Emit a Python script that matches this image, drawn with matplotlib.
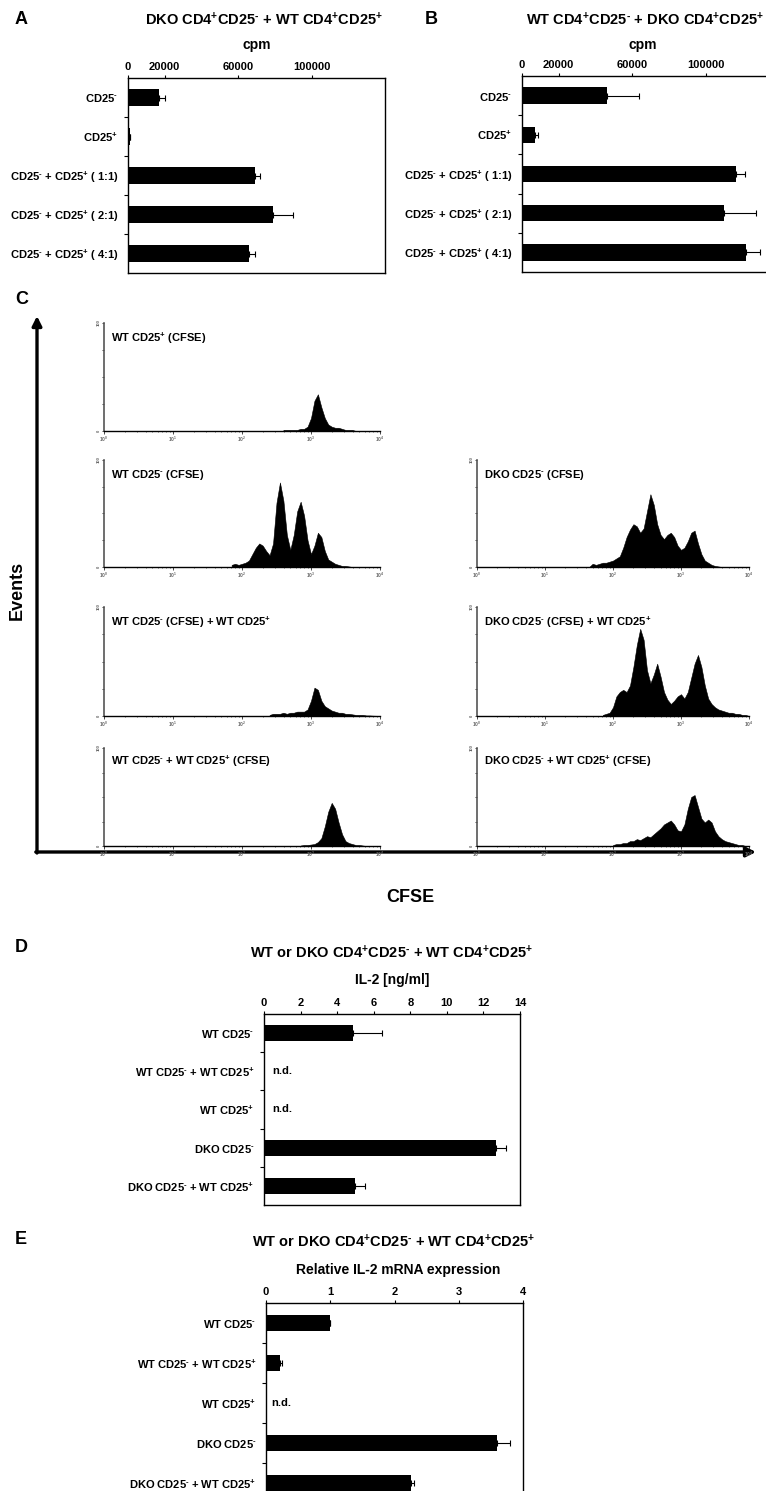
import numpy as np
import matplotlib.pyplot as plt

plt.rcParams['font.family'] = ['Liberation Sans', 'DejaVu Sans']
plt.rcParams['font.weight'] = 'bold'
plt.rcParams['mathtext.fontset'] = 'custom'
plt.rcParams['mathtext.rm'] = 'Liberation Sans:bold'
plt.rcParams['mathtext.it'] = 'Liberation Sans:bold'
plt.rcParams['mathtext.bf'] = 'Liberation Sans:bold'
plt.rcParams['mathtext.default'] = 'bf'

P = r'$^{+}$'
M = r'$^{\text{-}}$'

######################### DATOS #########################
# A / B: proliferacion (cpm)
prolif_labels = ['CD25' + M, 'CD25' + P,
                 'CD25' + M + ' + CD25' + P + ' ( 1:1)',
                 'CD25' + M + ' + CD25' + P + ' ( 2:1)',
                 'CD25' + M + ' + CD25' + P + ' ( 4:1)']
cpm_a = [16700, 1000, 69200, 78900, 65900]
cpm_a_err = [3300, 300, 2500, 10800, 3300]
cpm_b = [46300, 7300, 116800, 109900, 121800]
cpm_b_err = [17700, 1200, 4900, 17300, 8100]
cpm_ticks = [0, 20000, 60000, 100000]

# C: histogramas CFSE (altura en % del eje, cada 0.05 decadas log10)
cfse_step = 0.05
wt25p_start = 2.60
wt25p = [1, 1, 1, 1, 1, 2, 2, 4, 12, 28, 34, 22, 12, 6, 4, 3, 3, 2, 1, 1, 1, 0]
wt25m_start = 1.85
wt25m = [2, 3, 2, 3, 4, 6, 12, 18, 22, 20, 15, 11, 22, 60, 79, 62, 30, 16, 30, 52,
         61, 48, 25, 12, 20, 32, 28, 15, 7, 5, 3, 2, 1, 1, 0.5, 0]
dko25m_start = 1.65
dko25m = [0, 3, 2, 3, 4, 4, 5, 6, 8, 10, 18, 28, 35, 40, 38, 32, 36, 52, 68, 58,
          40, 30, 26, 30, 32, 28, 20, 16, 18, 24, 32, 34, 22, 12, 6, 4, 2, 1, 0.5, 0]
wt_mix_a_start = 2.40
wt_mix_a = [1, 2, 2, 2, 3, 2, 3, 3, 4, 4, 4, 6, 14, 26, 24, 14, 9, 7, 5, 4, 3, 3,
            2, 2, 1.5, 1, 1, 1, 0.5, 0.5, 0.3, 0.2, 0]
dko_mix_a_start = 1.85
dko_mix_a = [1, 2, 3, 8, 18, 22, 24, 22, 28, 45, 65, 80, 70, 42, 30, 38, 48, 36, 22,
             15, 11, 14, 18, 20, 16, 22, 35, 48, 56, 45, 28, 16, 11, 8, 6, 5, 4, 3, 3,
             2, 2, 1, 1, 0]
wt_mix_b_start = 2.85
wt_mix_b = [0.5, 1, 1, 1.5, 2, 4, 8, 20, 35, 44, 38, 24, 12, 5, 3, 2, 1, 1, 0.5, 0]
dko_mix_b_start = 2.00
dko_mix_b = [1, 2, 2, 3, 3, 5, 5, 7, 6, 8, 10, 9, 12, 15, 18, 22, 24, 26, 22, 16, 15,
             22, 38, 50, 52, 40, 28, 24, 27, 24, 15, 10, 7, 5, 4, 3, 2, 1, 1, 0]

# D / E: IL-2
il2_labels = ['WT CD25' + M, 'WT CD25' + M + ' + WT CD25' + P, 'WT CD25' + P,
              'DKO CD25' + M, 'DKO CD25' + M + ' + WT CD25' + P]
il2_ng = [4.85, np.nan, np.nan, 12.68, 5.0]
il2_ng_err = [1.6, 0, 0, 0.57, 0.55]
il2_mrna = [1.0, 0.215, np.nan, 3.6, 2.25]
il2_mrna_err = [0.0, 0.03, 0, 0.19, 0.06]

######################### FIGURA #########################
W, H = 766, 1491
fig = plt.figure(figsize=(W / 100, H / 100), dpi=100)


def caja(l, t, r, b):
    # rectangulo en pixeles -> fraccion de figura
    return [l / W, 1 - b / H, (r - l) / W, (b - t) / H]


def panel_barras(rect, labels, vals, errs, xmax, ticks, nd_x):
    ax = fig.add_axes(rect)
    y = np.arange(len(labels))
    v = np.array(vals, dtype=float)
    ok = ~np.isnan(v)
    ax.barh(y[ok], v[ok], height=0.42, color='black', zorder=2)
    e = np.array(errs, dtype=float)[ok]
    ax.errorbar(v[ok], y[ok], xerr=[np.zeros_like(e), e], fmt='none',
                ecolor='black', elinewidth=0.8, capsize=2.5, capthick=0.8, zorder=1)
    for yi in y[~ok]:
        ax.text(nd_x, yi, 'n.d.', fontsize=8, va='center', ha='left')
    ax.set_xlim(0, xmax)
    ax.set_ylim(len(labels) - 0.5, -0.5)
    ax.xaxis.tick_top()
    ax.set_xticks(ticks)
    ax.set_xticklabels([str(t) for t in ticks], fontsize=8, fontweight='bold')
    ax.tick_params(axis='x', length=2, width=0.8, pad=2)
    ax.set_yticks(y)
    ax.set_yticklabels(labels, fontsize=8)
    ax.tick_params(axis='y', which='major', length=0, pad=7)
    ax.set_yticks(y[:-1] + 0.5, minor=True)
    ax.tick_params(axis='y', which='minor', length=3, width=0.8)
    for s in ax.spines.values():
        s.set_linewidth(1.0)
    return ax


# A
panel_barras(caja(128, 78, 385, 273), prolif_labels, cpm_a, cpm_a_err, 140000, cpm_ticks, 0)
fig.text(15 / W, 1 - 20 / H, 'A', fontsize=13, va='center')
fig.text(264 / W, 1 - 20 / H, 'DKO CD4' + P + 'CD25' + M + ' + WT CD4' + P + 'CD25' + P,
         fontsize=10.5, ha='center', va='center')
fig.text(257 / W, 1 - 45 / H, 'cpm', fontsize=10, ha='center', va='center')

# B
panel_barras(caja(522, 76, 779, 272), prolif_labels, cpm_b, cpm_b_err, 140000, cpm_ticks, 0)
fig.text(425 / W, 1 - 20 / H, 'B', fontsize=13, va='center')
fig.text(645 / W, 1 - 20 / H, 'WT CD4' + P + 'CD25' + M + ' + DKO CD4' + P + 'CD25' + P,
         fontsize=10.5, ha='center', va='center')
fig.text(643 / W, 1 - 45 / H, 'cpm', fontsize=10, ha='center', va='center')

# C
fig.text(15 / W, 1 - 300 / H, 'C', fontsize=13, va='center')
fondo = fig.add_axes([0, 0, 1, 1])
fondo.set_xlim(0, W)
fondo.set_ylim(H, 0)
fondo.axis('off')
fondo.annotate('', xy=(37, 316), xytext=(37, 853),
               arrowprops=dict(arrowstyle='-|>', lw=2.4, color='black', mutation_scale=14,
                               shrinkA=0, shrinkB=0))
fondo.annotate('', xy=(756, 852), xytext=(35.8, 852),
               arrowprops=dict(arrowstyle='-|>', lw=2.4, color='black', mutation_scale=14,
                               shrinkA=0, shrinkB=0))
fig.text(17 / W, 1 - 590 / H, 'Events', fontsize=13, rotation=90, ha='center', va='center')
fig.text(410 / W, 1 - 897 / H, 'CFSE', fontsize=13, ha='center', va='center')


def histograma(rect, start, heights, label):
    ax = fig.add_axes(rect)
    h = np.array(heights, dtype=float)
    x = 10 ** (start + cfse_step * np.arange(len(h)))
    ax.fill_between(x, h, color='black', lw=0.4)
    ax.set_xscale('log')
    ax.set_xlim(1, 1e4)
    ax.set_ylim(0, 100)
    ax.spines['top'].set_visible(False)
    ax.spines['right'].set_visible(False)
    ax.spines['left'].set_color('#555555')
    ax.spines['left'].set_linewidth(1.2)
    ax.spines['bottom'].set_linewidth(1.0)
    ax.set_xticks([1, 10, 100, 1000, 10000])
    ax.set_xticklabels([r'$10^{%d}$' % i for i in range(5)], fontsize=3.5, color='#666666')
    ax.tick_params(axis='x', which='major', length=2, width=0.5, pad=1)
    ax.tick_params(axis='x', which='minor', length=1, width=0.4)
    ax.set_yticks([0, 25, 50, 75, 100])
    ax.set_yticklabels(['0', '', '', '', '100'], fontsize=3, rotation=90,
                       va='center', color='#666666')
    ax.tick_params(axis='y', length=1.5, width=0.5, pad=1)
    ax.text(0.025, 0.86, label, transform=ax.transAxes, fontsize=8, va='center')
    return ax


izq = (104, 380)
der = (477, 749)
filas = [(323, 431), (460, 567), (607, 716), (748, 846)]

histograma(caja(izq[0], filas[0][0], izq[1], filas[0][1]), wt25p_start, wt25p,
           'WT CD25' + P + ' (CFSE)')
histograma(caja(izq[0], filas[1][0], izq[1], filas[1][1]), wt25m_start, wt25m,
           'WT CD25' + M + ' (CFSE)')
histograma(caja(der[0], filas[1][0], der[1], filas[1][1]), dko25m_start, dko25m,
           'DKO CD25' + M + ' (CFSE)')
histograma(caja(izq[0], filas[2][0], izq[1], filas[2][1]), wt_mix_a_start, wt_mix_a,
           'WT CD25' + M + ' (CFSE) + WT CD25' + P)
histograma(caja(der[0], filas[2][0], der[1], filas[2][1]), dko_mix_a_start, dko_mix_a,
           'DKO CD25' + M + ' (CFSE) + WT CD25' + P)
histograma(caja(izq[0], filas[3][0], izq[1], filas[3][1]), wt_mix_b_start, wt_mix_b,
           'WT CD25' + M + ' + WT CD25' + P + ' (CFSE)')
histograma(caja(der[0], filas[3][0], der[1], filas[3][1]), dko_mix_b_start, dko_mix_b,
           'DKO CD25' + M + ' + WT CD25' + P + ' (CFSE)')

# D
panel_barras(caja(264, 1014, 520, 1205), il2_labels, il2_ng, il2_ng_err, 14,
             [0, 2, 4, 6, 8, 10, 12, 14], 0.45)
fig.text(15 / W, 1 - 948 / H, 'D', fontsize=13, va='center')
fig.text(392 / W, 1 - 953 / H, 'WT or DKO CD4' + P + 'CD25' + M + ' + WT CD4' + P + 'CD25' + P,
         fontsize=10.5, ha='center', va='center')
fig.text(392 / W, 1 - 980 / H, 'IL-2 [ng/ml]', fontsize=10, ha='center', va='center')

# E
panel_barras(caja(266, 1303, 523, 1503), il2_labels, il2_mrna, il2_mrna_err, 4,
             [0, 1, 2, 3, 4], 0.08)
fig.text(15 / W, 1 - 1240 / H, 'E', fontsize=13, va='center')
fig.text(394 / W, 1 - 1242 / H, 'WT or DKO CD4' + P + 'CD25' + M + ' + WT CD4' + P + 'CD25' + P,
         fontsize=10.5, ha='center', va='center')
fig.text(398 / W, 1 - 1270 / H, 'Relative IL-2 mRNA expression', fontsize=10,
         ha='center', va='center')

plt.savefig('out.png', dpi=100)
